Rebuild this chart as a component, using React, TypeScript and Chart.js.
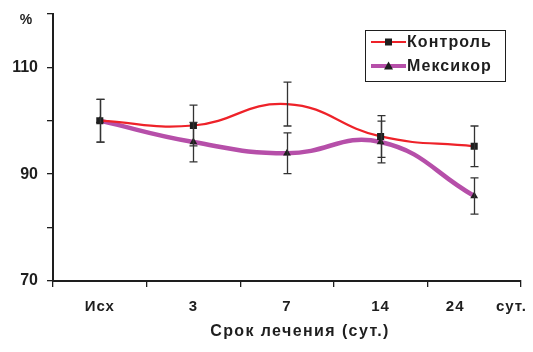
import { useEffect, useRef } from 'react';
import { Chart, registerables } from 'chart.js';

Chart.register(...registerables);

// Treatment period categories and the unit shown at the end of the axis
const categories = ['Исх', '3', '7', '14', '24'];
const axisUnit = 'сут.';
const xTitle = 'Срок лечения (сут.)';
const yUnit = '%';

// Series values (%) and their error ranges
const controlValues = [100, 99.1, 103.1, 97.05, 95.2];
const controlErrors = [4, 3.8, 4.1, 3.9, 3.8];
const controlMarkerShown = [true, true, false, true, true];
const mexicorValues = [100, 96.0, 93.9, 96.0, 85.9];
const mexicorErrors = [4, 3.7, 3.8, 3.9, 3.4];

const seriesNames = ['Контроль', 'Мексикор'];

// Y axis range and the tick values that carry a label
const yMin = 70;
const yMax = 120;
const yStep = 10;
const yLabeledTicks = [70, 90, 110];

const RED = '#ee2229';
const MAGENTA = '#b64fa9';
const INK = '#1e1e1e';
const FONT = '"Liberation Sans", Arial, sans-serif';

const errorBarsPlugin = {
  id: 'errorBars',
  afterDatasetsDraw(chart: any) {
    const { ctx } = chart;
    const x = chart.scales.x;
    const y = chart.scales.y;
    const sets = [
      { values: controlValues, errors: controlErrors },
      { values: mexicorValues, errors: mexicorErrors },
    ];
    ctx.save();
    ctx.strokeStyle = '#333';
    ctx.lineWidth = 1.3;
    for (const s of sets) {
      s.values.forEach((v, i) => {
        const px = Math.round(x.getPixelForValue(i)) + 0.5;
        const top = y.getPixelForValue(v + s.errors[i]);
        const bot = y.getPixelForValue(v - s.errors[i]);
        ctx.beginPath();
        ctx.moveTo(px, top);
        ctx.lineTo(px, bot);
        ctx.moveTo(px - 4, top);
        ctx.lineTo(px + 4, top);
        ctx.moveTo(px - 4, bot);
        ctx.lineTo(px + 4, bot);
        ctx.stroke();
      });
    }
    ctx.restore();
  },
};

const textPlugin = {
  id: 'annotationText',
  afterDraw(chart: any) {
    const { ctx, chartArea } = chart;
    const x = chart.scales.x;
    ctx.save();
    ctx.fillStyle = INK;
    (ctx as any).letterSpacing = '1px';
    ctx.textBaseline = 'middle';

    // category labels under the axis
    ctx.font = `bold 15px ${FONT}`;
    ctx.textAlign = 'center';
    categories.forEach((c, i) => {
      let px = x.getPixelForValue(i);
      if (i === categories.length - 1) px -= 19;
      ctx.fillText(c, px, 307);
    });
    ctx.textAlign = 'right';
    ctx.fillText(axisUnit, chartArea.right + 6, 307);

    // axis title
    ctx.font = `bold 16px ${FONT}`;
    (ctx as any).letterSpacing = '1.4px';
    ctx.textAlign = 'center';
    ctx.fillText(xTitle, 300, 332);

    // unit above the y axis
    (ctx as any).letterSpacing = '0px';
    ctx.font = `bold 14px ${FONT}`;
    ctx.textAlign = 'center';
    ctx.fillText(yUnit, 26, 20);

    // legend box
    const lx = 365;
    const ly = 30;
    const lw = 140;
    const lh = 51;
    ctx.fillStyle = '#fff';
    ctx.fillRect(lx, ly, lw, lh);
    ctx.strokeStyle = INK;
    ctx.lineWidth = 1;
    ctx.strokeRect(lx + 0.5, ly + 0.5, lw, lh);

    const rows = [
      { name: seriesNames[0], color: RED, width: 2, marker: 'rect', y: 42 },
      { name: seriesNames[1], color: MAGENTA, width: 4, marker: 'tri', y: 66 },
    ];
    for (const r of rows) {
      ctx.strokeStyle = r.color;
      ctx.lineWidth = r.width;
      ctx.beginPath();
      ctx.moveTo(371, r.y);
      ctx.lineTo(406, r.y);
      ctx.stroke();
      ctx.fillStyle = INK;
      if (r.marker === 'rect') {
        ctx.fillRect(385, r.y - 3.5, 7, 7);
      } else {
        ctx.beginPath();
        ctx.moveTo(388.5, r.y - 4.5);
        ctx.lineTo(393, r.y + 3.5);
        ctx.lineTo(384, r.y + 3.5);
        ctx.closePath();
        ctx.fill();
      }
      ctx.font = `bold 16px ${FONT}`;
      (ctx as any).letterSpacing = '1.1px';
      ctx.textAlign = 'left';
      ctx.fillText(r.name, 407, r.y + 1);
    }
    ctx.restore();
  },
};

export default function App() {
  const canvasRef = useRef<HTMLCanvasElement | null>(null);

  useEffect(() => {
    if (!canvasRef.current) return;
    const chart = new Chart(canvasRef.current, {
      type: 'line',
      data: {
        labels: categories,
        datasets: [
          {
            label: seriesNames[0],
            data: controlValues,
            borderColor: RED,
            borderWidth: 2.2,
            tension: 0.45,
            pointStyle: 'rect',
            pointRadius: controlMarkerShown.map((s) => (s ? 5 : 0)),
            pointBackgroundColor: INK,
            pointBorderColor: INK,
            pointBorderWidth: 0,
            order: 1,
          },
          {
            label: seriesNames[1],
            data: mexicorValues,
            borderColor: MAGENTA,
            borderWidth: 4.5,
            tension: 0.45,
            pointStyle: 'triangle',
            pointRadius: 4.5,
            pointBackgroundColor: INK,
            pointBorderColor: INK,
            pointBorderWidth: 0,
            order: 2,
          },
        ],
      },
      options: {
        responsive: false,
        animation: false,
        events: [],
        layout: { padding: { top: 13, right: 12, left: 0, bottom: 0 } },
        plugins: {
          legend: { display: false },
          tooltip: { enabled: false },
        },
        scales: {
          x: {
            type: 'category',
            offset: true,
            grid: {
              display: true,
              offset: true,
              drawOnChartArea: false,
              drawTicks: true,
              tickLength: 6,
              color: INK,
              lineWidth: 1.3,
            },
            border: { color: INK, width: 2 },
            ticks: { display: false },
            afterFit(scale: any) {
              scale.height = 71;
            },
          },
          y: {
            min: yMin,
            max: yMax,
            grid: {
              drawOnChartArea: false,
              drawTicks: true,
              tickLength: 6,
              color: INK,
              lineWidth: 1.3,
            },
            border: { color: INK, width: 2 },
            ticks: {
              stepSize: yStep,
              padding: 9,
              color: INK,
              font: { family: FONT, size: 16, weight: 'bold', lineHeight: 0.6 },
              callback: (v: any) => (yLabeledTicks.includes(Number(v)) ? String(v) : ''),
            },
            afterFit(scale: any) {
              scale.width = 53;
            },
          },
        },
      },
      plugins: [errorBarsPlugin, textPlugin],
    } as any);
    return () => chart.destroy();
  }, []);

  return (
    <div style={{ position: 'fixed', left: 0, top: 0, width: 533, height: 352, background: '#fff' }}>
      <canvas ref={canvasRef} width={533} height={352} />
    </div>
  );
}
